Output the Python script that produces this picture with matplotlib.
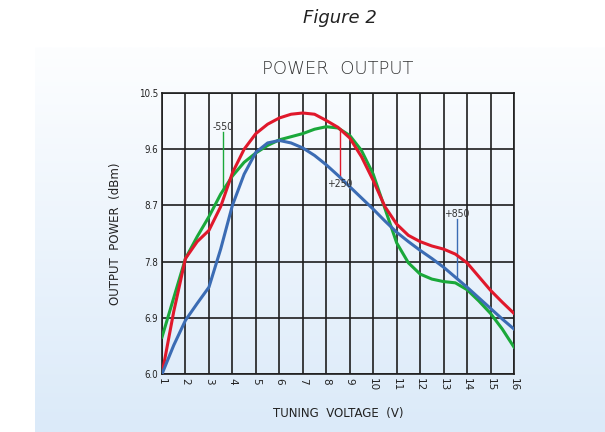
import numpy as np
import matplotlib.pyplot as plt
from matplotlib.colors import LinearSegmentedColormap

# tuning voltage (V)
volts = [1, 1.5, 2, 2.5, 3, 3.5, 4, 4.5, 5, 5.5, 6, 6.5, 7, 7.5, 8, 8.5,
         9, 9.5, 10, 10.5, 11, 11.5, 12, 12.5, 13, 13.5, 14, 14.5, 15, 15.5, 16]

# output power (dBm) for each case temperature
p_minus55 = [6.59, 7.22, 7.85, 8.2, 8.52, 8.88, 9.17, 9.39, 9.54, 9.66, 9.75, 9.8,
             9.85, 9.92, 9.96, 9.94, 9.82, 9.58, 9.2, 8.65, 8.1, 7.78, 7.6, 7.52,
             7.48, 7.46, 7.35, 7.17, 6.97, 6.72, 6.43]
p_plus25 = [6.0, 7.0, 7.85, 8.12, 8.3, 8.68, 9.22, 9.6, 9.85, 10.0, 10.1, 10.16,
            10.18, 10.16, 10.06, 9.95, 9.78, 9.48, 9.1, 8.68, 8.4, 8.22, 8.12,
            8.05, 8.0, 7.92, 7.78, 7.56, 7.34, 7.15, 6.97]
p_plus85 = [6.0, 6.46, 6.86, 7.13, 7.39, 8.0, 8.7, 9.2, 9.55, 9.7, 9.74, 9.7,
            9.62, 9.5, 9.35, 9.18, 9.0, 8.82, 8.64, 8.45, 8.27, 8.12, 7.98, 7.85,
            7.71, 7.55, 7.39, 7.22, 7.05, 6.88, 6.72]

x_ticks = list(range(1, 17))
y_ticks = [6.0, 6.9, 7.8, 8.7, 9.6, 10.5]
y_tick_labels = ["6.0", "6.9", "7.8", "8.7", "9.6", "10.5"]

# temperature callouts: label, x, stem start, stem end (label sits at stem start)
callouts = [
    ("-550", 3.6, 9.88, 8.95, "#1aa83a", "bottom"),
    ("+250", 8.58, 9.13, 9.92, "#e0182b", "top"),
    ("+850", 13.57, 8.48, 7.53, "#3b6cb4", "bottom"),
]

fig = plt.figure(figsize=(6.05, 4.32), dpi=100)

# light blue gradient panel behind the chart
bg = fig.add_axes([35 / 605, 0, 570 / 605, 385 / 432], zorder=0)
cmap = LinearSegmentedColormap.from_list("panel", ["#dbeaf9", "#fdfeff"])
bg.imshow(np.linspace(0, 1, 256).reshape(-1, 1), aspect="auto", cmap=cmap,
          origin="lower", extent=[0, 1, 0, 1])
bg.axis("off")

ax = fig.add_axes([162 / 605, 1 - 374 / 432, 352 / 605, 281 / 432], zorder=1)
ax.set_facecolor("none")

ax.plot(volts, p_minus55, color="#1aa83a", linewidth=2.2, zorder=3)
ax.plot(volts, p_plus25, color="#e0182b", linewidth=2.2, zorder=4)
ax.plot(volts, p_plus85, color="#3b6cb4", linewidth=2.2, zorder=5)

for label, xv, start, end, color, va in callouts:
    ax.plot([xv, xv], [start, end], color=color, linewidth=1.0, zorder=2)
    ax.text(xv, start, label, fontsize=7.5, color="#333333", ha="center", va=va,
            fontstretch="condensed", zorder=6)

ax.set_xlim(1, 16)
ax.set_ylim(6.0, 10.5)
ax.set_xticks(x_ticks)
ax.set_xticklabels([str(t) for t in x_ticks], rotation=-90, fontsize=7.5,
                   color="#222222")
ax.set_yticks(y_ticks)
ax.set_yticklabels(y_tick_labels, fontsize=7, color="#222222",
                   fontstretch="condensed")
ax.tick_params(length=0, pad=3)
ax.grid(True, color="#1e1e1e", linewidth=1.2)
for s in ax.spines.values():
    s.set_color("#1e1e1e")
    s.set_linewidth(1.2)

ax.set_xlabel("TUNING  VOLTAGE  (V)", fontsize=8.5, color="#222222", labelpad=11)
ax.set_ylabel("OUTPUT  POWER  (dBm)", fontsize=8.5, color="#222222", labelpad=12)
ax.set_title("POWER  OUTPUT", fontsize=13, color="#333333", pad=14,
             fontweight="light")

fig.text(340 / 605, 1 - 18 / 432, "Figure 2", fontsize=13, style="italic",
         ha="center", va="center", color="#222222")

fig.savefig("out.png", dpi=100)
